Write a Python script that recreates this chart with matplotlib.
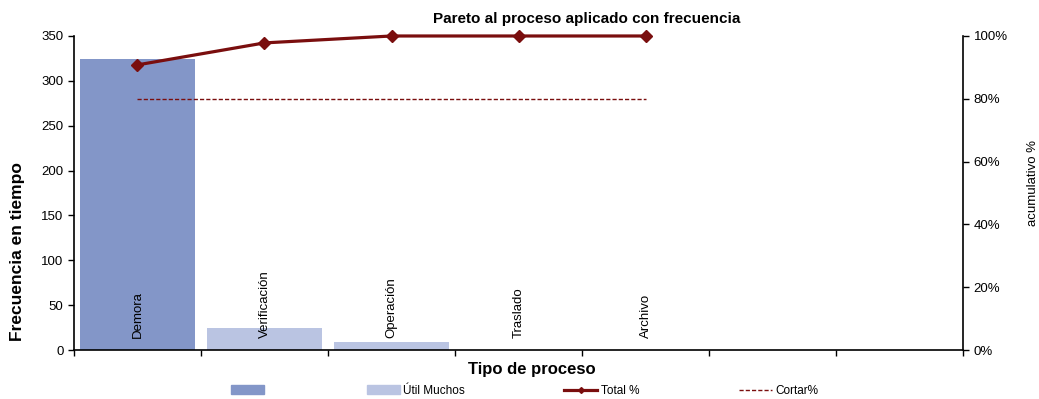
import matplotlib
matplotlib.use("Agg")
import matplotlib.pyplot as plt
from matplotlib.ticker import PercentFormatter
from matplotlib.lines import Line2D
from matplotlib.patches import Patch

plt.rcParams['font.family'] = ['Liberation Sans', 'DejaVu Sans']

categories = ["Demora", "Verificación", "Operación", "Traslado", "Archivo", "", ""]
vital = [324, 0, 0, 0, 0, 0, 0]
useful = [0, 24, 9, 0, 0, 0, 0]
cum_pct = [0.908, 0.978, 1.0, 1.0, 1.0]
cut = [0.8, 0.8, 0.8, 0.8, 0.8]

dark_bar = "#8396C8"
light_bar = "#BAC4E2"
red = "#7A0E0E"

fig = plt.figure(figsize=(10.39, 3.99), dpi=100)
ax = fig.add_axes([0.0712, 0.1228, 0.8557, 0.787])
x = list(range(len(categories)))
ax.bar(x, vital, width=0.91, color=dark_bar)
ax.bar(x, useful, width=0.91, color=light_bar)
ax.set_xlim(-0.5, len(categories) - 0.5)
ax.set_ylim(0, 350)
ax.set_yticks(range(0, 351, 50))
ax.set_xticks([i - 0.5 for i in range(len(categories) + 1)])
ax.set_xticklabels([])
ax.tick_params(axis='x', length=4, width=1)
ax.tick_params(axis='y', labelsize=9.5, length=4, width=1)
for s in ['top', 'right']:
    ax.spines[s].set_visible(False)
ax.spines['left'].set_linewidth(1.2)
ax.spines['bottom'].set_linewidth(1.2)
for i, c in enumerate(categories):
    if c:
        ax.text(i, 13, c, rotation=90, ha='center', va='bottom', fontsize=9.5)

ax2 = ax.twinx()
ax2.set_ylim(0, 1)
ax2.set_yticks([0, 0.2, 0.4, 0.6, 0.8, 1.0])
ax2.yaxis.set_major_formatter(PercentFormatter(1.0, decimals=0))
ax2.tick_params(axis='y', labelsize=9.5, length=4, width=1)
for s in ['top', 'left', 'bottom']:
    ax2.spines[s].set_visible(False)
ax2.spines['right'].set_linewidth(1.2)
xi = list(range(len(cum_pct)))
ax2.plot(xi, cum_pct, color=red, lw=2.3, marker='D', ms=6, clip_on=False, zorder=5)
ax2.plot(xi, cut, color=red, lw=1, ls=(0, (3, 1.5)), zorder=4)

fig.text(18 / 1039, 1 - 252 / 399, "Frecuencia en tiempo", rotation=90, ha='center', va='center',
         fontsize=12.5, fontweight='bold')
fig.text(1033 / 1039, 1 - 183 / 399, "acumulativo %", rotation=90, ha='center', va='center',
         fontsize=9.5)
fig.text(0.512, 0.075, "Tipo de proceso", ha='center', va='center', fontsize=12, fontweight='bold')
fig.text(0.565, 0.953, "Pareto al proceso aplicado con frecuencia", ha='center', va='center',
         fontsize=11, fontweight='bold')

handles = [Patch(color=dark_bar), Patch(color=light_bar),
           Line2D([], [], color=red, lw=2.3, marker='D', ms=3),
           Line2D([], [], color=red, lw=1, ls=(0, (3, 1.5)))]
labels = ["", "Útil Muchos", "Total %", "Cortar%"]
fig.legend(handles, labels, ncol=4, loc='center', bbox_to_anchor=(0.505, 0.02),
           frameon=False, fontsize=8.5, handlelength=2.8, handleheight=0.8,
           handletextpad=0.3, columnspacing=8.4)

fig.savefig("out.png", dpi=100)
